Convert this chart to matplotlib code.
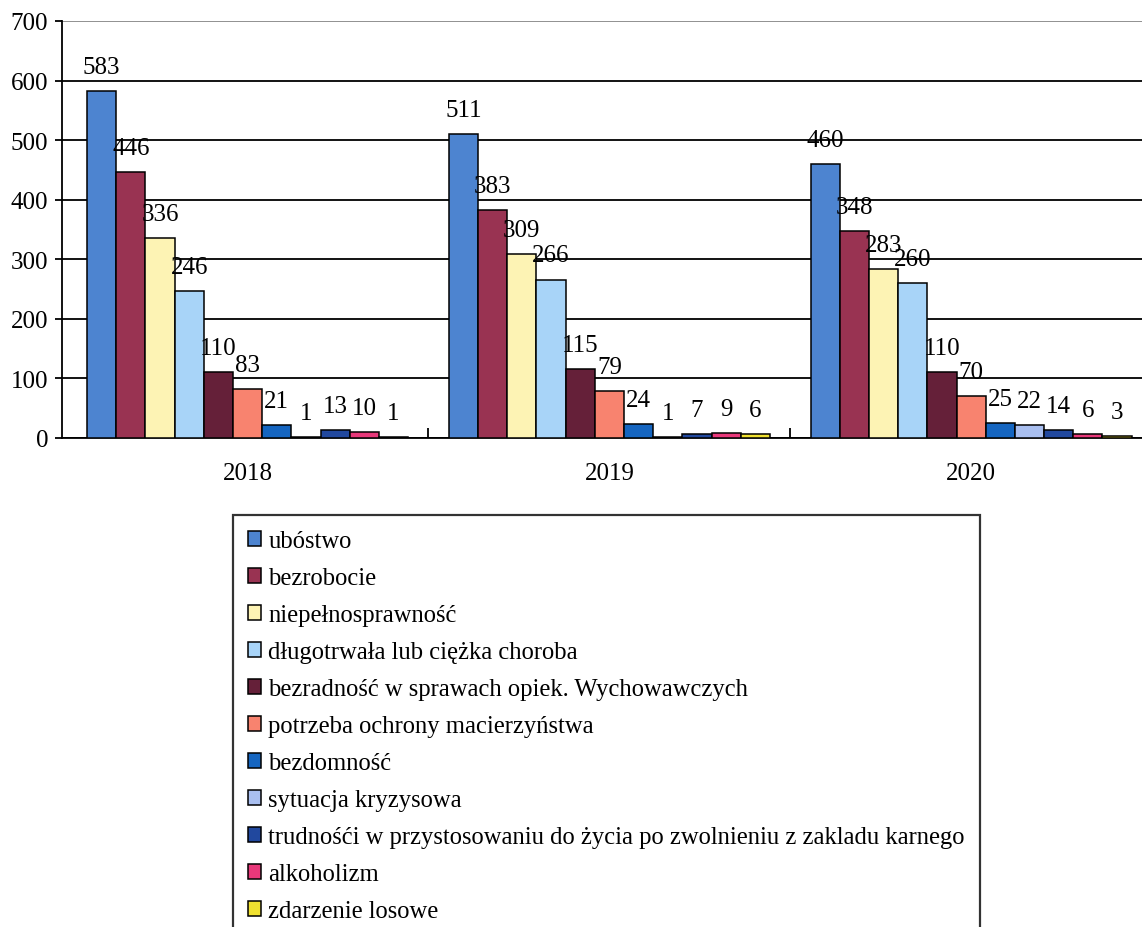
import matplotlib
matplotlib.use("Agg")
import matplotlib.pyplot as plt
import numpy as np

# --- data -------------------------------------------------------------
years = ["2018", "2019", "2020"]
series = [
    "ubóstwo",
    "bezrobocie",
    "niepełnosprawność",
    "długotrwała lub ciężka choroba",
    "bezradność w sprawach opiek. Wychowawczych",
    "potrzeba ochrony macierzyństwa",
    "bezdomność",
    "sytuacja kryzysowa",
    "trudnośći w przystosowaniu do życia po zwolnieniu z zakladu karnego",
    "alkoholizm",
    "zdarzenie losowe",
]
values_2018 = [583, 446, 336, 246, 110, 83, 21, 1, 13, 10, 1]
values_2019 = [511, 383, 309, 266, 115, 79, 24, 1, 7, 9, 6]
values_2020 = [460, 348, 283, 260, 110, 70, 25, 22, 14, 6, 3]
yticks = [0, 100, 200, 300, 400, 500, 600, 700]

colors = ["#4d84d0", "#993352", "#fdf3b4", "#a8d4f8", "#652039", "#f8836f",
          "#1565c0", "#a9bff0", "#21489e", "#e8387a", "#f0e130"]

plt.rcParams["font.family"] = ["Liberation Serif", "DejaVu Serif"]

W, H = 1142, 928
fig = plt.figure(figsize=(W / 100, H / 100), dpi=100)
# axes runs slightly past the right edge, as in the scan
ax = fig.add_axes([62 / W, 1 - 439 / H, 1090 / W, (439 - 22) / H])

data = np.array([values_2018, values_2019, values_2020])  # years x series
x = np.arange(len(years))
n = len(series)
w = 0.0807

handles = []
for i in range(n):
    pos = x + (i - (n - 1) / 2) * w
    b = ax.bar(pos, data[:, i], width=w, color=colors[i], edgecolor="black",
               linewidth=1.1, zorder=3, label=series[i])
    handles.append(b)
    for xp, v in zip(pos, data[:, i]):
        ax.annotate(f"{v}", (xp, v), xytext=(0, 13), textcoords="offset points",
                    ha="center", va="baseline", fontsize=18, zorder=4)

ax.set_xlim(-0.513, len(years) - 0.5)
ax.set_ylim(0, 700)
ax.set_yticks(yticks)
ax.set_xticks(x, years)
ax.set_xticks([0.5, 1.5], minor=True)
ax.tick_params(axis="y", labelsize=18, length=5, width=1.3, pad=5)
ax.tick_params(axis="x", which="major", labelsize=18, length=0, pad=17)
ax.tick_params(axis="x", which="minor", direction="in", length=7, width=1.3)

ax.grid(axis="y", color="black", linewidth=1.3, zorder=0)
ax.yaxis.get_gridlines()[-1].set_color("#888888")
for s in ("top", "right"):
    ax.spines[s].set_visible(False)
ax.spines["left"].set_linewidth(1.3)
ax.spines["bottom"].set_linewidth(1.3)

leg = fig.legend(handles=handles, loc="upper left",
                 bbox_to_anchor=(233 / W, 1 - 516 / H), fontsize=17.7,
                 frameon=True, fancybox=False, edgecolor="black",
                 handlelength=0.52, handleheight=0.52, handletextpad=0.3,
                 labelspacing=0.61, borderpad=0.62, borderaxespad=0)
leg.get_frame().set_linewidth(1.6)

fig.savefig("out.png", dpi=100)
